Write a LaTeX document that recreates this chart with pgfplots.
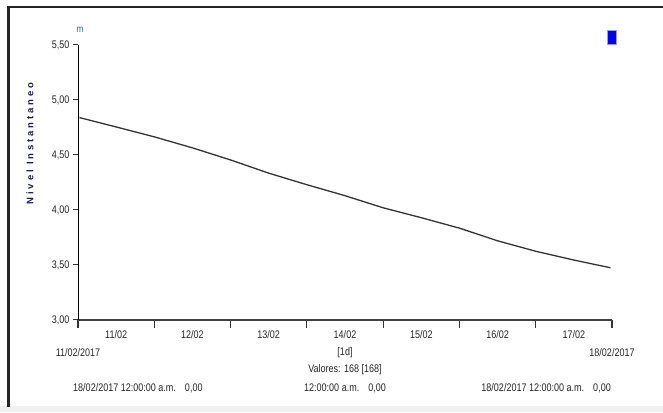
\documentclass[border=0pt]{standalone}
\usepackage{pgfplots}
\pgfplotsset{compat=1.18}
\usepackage{fontspec}
\setmainfont{Liberation Sans}
\newfontfamily\narrow[FakeStretch=0.82]{Liberation Sans}
\newfontfamily\lblfont[LetterSpace=30]{Liberation Sans}
\definecolor{navy}{HTML}{1C1C4E}
\definecolor{unitblue}{HTML}{3060A0}
\definecolor{txt}{HTML}{262626}
\begin{document}
\begin{tikzpicture}[x=1pt,y=1pt]
\fill[white] (0,0) rectangle (663,412);
\fill[black!6] (0,0) rectangle (663,6);
\draw[line width=2.5pt, black!85] (8.5,5) -- (8.5,405) -- (663,405);
\begin{axis}[
  at={(78pt,92pt)}, anchor=south west,
  scale only axis, width=534pt, height=275pt,
  xmin=0, xmax=7, ymin=3, ymax=5.5,
  axis lines=left, axis line style={-},
  x axis line style={line width=1.6pt, black!75},
  y axis line style={line width=0.7pt, black},
  tick align=outside,
  major tick length=5pt,
  xtick={0,1,2,3,4,5,6,7}, xticklabels={},
  x tick style={line width=1.2pt, black!80, /pgfplots/major tick length=8pt},
  y tick style={line width=1pt, black!80},
  extra x ticks={0.5,1.5,2.5,3.5,4.5,5.5,6.5},
  extra x tick labels={11/02,12/02,13/02,14/02,15/02,16/02,17/02},
  extra x tick style={major tick length=0pt, tick style={draw=none},
    tick label style={yshift=-7pt}},
  ytick={3,3.5,4,4.5,5,5.5},
  yticklabels={{3,00},{3,50},{4,00},{4,50},{5,00},{5,50}},
  tick label style={font=\narrow\fontsize{11}{13}\selectfont, text=txt},
  clip=false,
]
\addplot[line width=1.3pt, color=black!80] table {
x y
0.02 4.84
0.5 4.755
1.0 4.665
1.5 4.565
2.0 4.455
2.5 4.335
3.0 4.23
3.5 4.13
4.0 4.02
4.5 3.93
5.0 3.835
5.5 3.72
6.0 3.625
6.5 3.545
6.98 3.475
};
\end{axis}
\node[font=\lblfont\bfseries\fontsize{9.5}{11}\selectfont, text=navy, rotate=90] at (30,268.5) {Nivel Instantaneo};
\node[font=\narrow\fontsize{10}{12}\selectfont, text=unitblue] at (80,382) {m};
\fill[blue, draw=blue!40, line width=0.6pt] (607.5,367.5) rectangle (616,381.5);
\begin{scope}[every node/.style={font=\narrow\fontsize{11}{13}\selectfont, text=txt, inner sep=0pt}]
\node at (78,59) {11/02/2017};
\node at (612,59) {18/02/2017};
\node at (345,59) {[1d]};
\node at (345,42) {Valores: 168 [168]};
\node[anchor=west] at (73,24) {18/02/2017 12:00:00 a.m.\hspace{9pt}0,00};
\node at (345,24) {12:00:00 a.m.\hspace{9pt}0,00};
\node[anchor=east] at (611,24) {18/02/2017 12:00:00 a.m.\hspace{9pt}0,00};
\end{scope}
\pgfresetboundingbox
\useasboundingbox (0,0) rectangle (663,412);
\end{tikzpicture}
\end{document}
